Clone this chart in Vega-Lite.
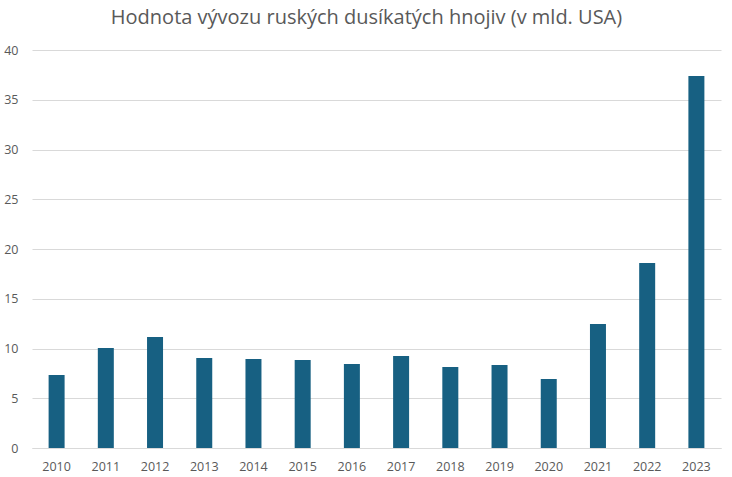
{
  "$schema": "https://vega.github.io/schema/vega-lite/v6.json",
  "autosize": {"type": "none"},
  "width": 689,
  "height": 398,
  "padding": {"left": 32, "top": 50, "right": 11, "bottom": 29},
  "background": "white",
  "title": {
    "text": "Hodnota vývozu ruských dusíkatých hnojiv (v mld. USA)",
    "font": "Open Sans",
    "fontSize": 20,
    "fontWeight": "normal",
    "color": "#595959",
    "anchor": "middle",
    "offset": 16,
    "dx": -10
  },
  "data": {
    "values": [
      {"rok": "2010", "hodnota": 7.34},
      {"rok": "2011", "hodnota": 10.05},
      {"rok": "2012", "hodnota": 11.16},
      {"rok": "2013", "hodnota": 9.05},
      {"rok": "2014", "hodnota": 8.94},
      {"rok": "2015", "hodnota": 8.84},
      {"rok": "2016", "hodnota": 8.44},
      {"rok": "2017", "hodnota": 9.25},
      {"rok": "2018", "hodnota": 8.14},
      {"rok": "2019", "hodnota": 8.34},
      {"rok": "2020", "hodnota": 6.93},
      {"rok": "2021", "hodnota": 12.46},
      {"rok": "2022", "hodnota": 18.6},
      {"rok": "2023", "hodnota": 37.39}
    ]
  },
  "mark": {"type": "bar", "color": "#176082"},
  "encoding": {
    "x": {
      "field": "rok",
      "type": "ordinal",
      "scale": {"paddingInner": 0.675, "paddingOuter": 0.3375},
      "axis": {
        "title": null,
        "labelAngle": 0,
        "labelFont": "Open Sans",
        "labelFontSize": 12.5,
        "labelColor": "#595959",
        "labelPadding": 12,
        "ticks": false,
        "domainColor": "#d9d9d9",
        "domainWidth": 1
      }
    },
    "y": {
      "field": "hodnota",
      "type": "quantitative",
      "scale": {"domain": [0, 40]},
      "axis": {
        "title": null,
        "values": [0, 5, 10, 15, 20, 25, 30, 35, 40],
        "labelFont": "Open Sans",
        "labelFontSize": 12.5,
        "labelColor": "#595959",
        "labelPadding": 14,
        "ticks": false,
        "domain": false,
        "gridColor": "#d9d9d9",
        "gridWidth": 1
      }
    }
  },
  "config": {"view": {"stroke": null}}
}
